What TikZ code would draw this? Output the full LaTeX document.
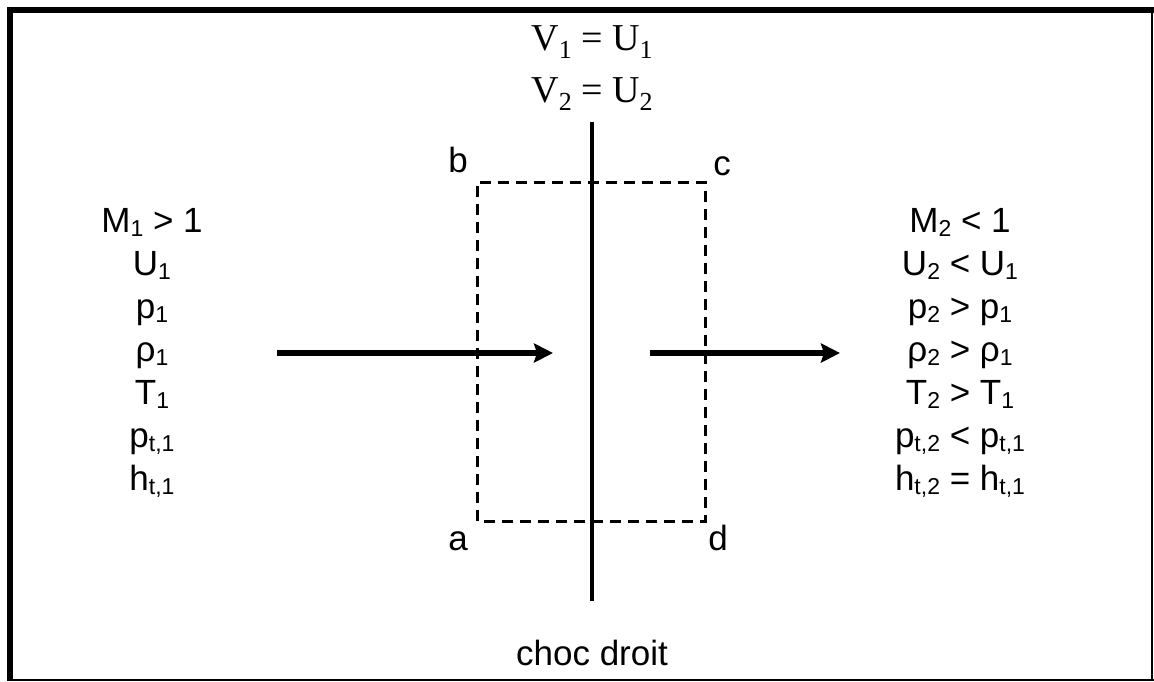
\documentclass[tikz,border=0pt]{standalone}
\usepackage{fontspec}
\setmainfont{Liberation Sans}
\newfontfamily\serifrm{Liberation Serif}
\usetikzlibrary{arrows.meta}
\newcommand{\sbs}[1]{\raisebox{-4pt}{\fontsize{23}{23}\selectfont #1}}
\newcommand{\ssub}[1]{\raisebox{-8pt}{\fontsize{26}{26}\selectfont #1}}
\begin{document}
\begin{tikzpicture}[x=1pt,y=-1pt,
  txt/.style={inner sep=0pt,anchor=base,font=\fontsize{35}{42}\selectfont},
  stxt/.style={inner sep=0pt,anchor=base,font=\serifrm\fontsize{38}{42}\selectfont},
  flow/.style={line width=5.5pt,-{Stealth[length=19pt,width=19pt,inset=3pt]}},
  cv/.style={line width=3pt,dash pattern=on 11pt off 7pt},
  shock/.style={line width=4pt}]
\useasboundingbox (0,0) rectangle (1154,681);
\fill[white] (0,0) rectangle (1154,681);
% frame
\fill[black] (7,7) rectangle (1154,13);
\fill[black] (7,7) rectangle (13,681);
\draw[line width=2pt] (1152,7) -- (1152,681);
\draw[line width=2pt] (7,679.5) -- (1154,679.5);
% top labels
\node[stxt] (v1) at (592,50) {V\ssub{1} = U\ssub{1}};
\node[stxt] (v2) at (592,102) {V\ssub{2} = U\ssub{2}};
% shock
\coordinate (st) at (592,122);
\coordinate (sb) at (592,601);
\draw[shock] (st) -- (sb);
% control volume
\coordinate (ca) at (477,521);
\coordinate (cb) at (477,182);
\coordinate (cc) at (705,182);
\coordinate (cd) at (705,521);
\draw[cv] (ca) -- (cb) -- (cc) -- (cd) -- cycle;
\node[txt] (la) at (458,550) {a};
\node[txt] (lb) at (458,172) {b};
\node[txt] (lc) at (722,175) {c};
\node[txt] (ld) at (718,550) {d};
% arrows
\coordinate (a1s) at (277,353);
\coordinate (a1e) at (553,353);
\coordinate (a2s) at (650,353);
\coordinate (a2e) at (840,353);
\draw[flow] (a1s) -- (a1e);
\draw[flow] (a2s) -- (a2e);
% left state
\node[txt] (l1) at (152,232) {M\sbs{1} > 1};
\node[txt] (l2) at (152,275) {U\sbs{1}};
\node[txt] (l3) at (152,318) {p\sbs{1}};
\node[txt] (l4) at (152,361) {ρ\sbs{1}};
\node[txt] (l5) at (152,404) {T\sbs{1}};
\node[txt] (l6) at (152,447) {p\sbs{t,1}};
\node[txt] (l7) at (152,490) {h\sbs{t,1}};
% right state
\node[txt] (r1) at (960,232) {M\sbs{2} < 1};
\node[txt] (r2) at (960,275) {U\sbs{2} < U\sbs{1}};
\node[txt] (r3) at (960,318) {p\sbs{2} > p\sbs{1}};
\node[txt] (r4) at (960,361) {ρ\sbs{2} > ρ\sbs{1}};
\node[txt] (r5) at (960,404) {T\sbs{2} > T\sbs{1}};
\node[txt] (r6) at (960,447) {p\sbs{t,2} < p\sbs{t,1}};
\node[txt] (r7) at (960,490) {h\sbs{t,2} = h\sbs{t,1}};
% caption
\node[txt] (cap) at (592,665) {choc droit};
\end{tikzpicture}
\end{document}
